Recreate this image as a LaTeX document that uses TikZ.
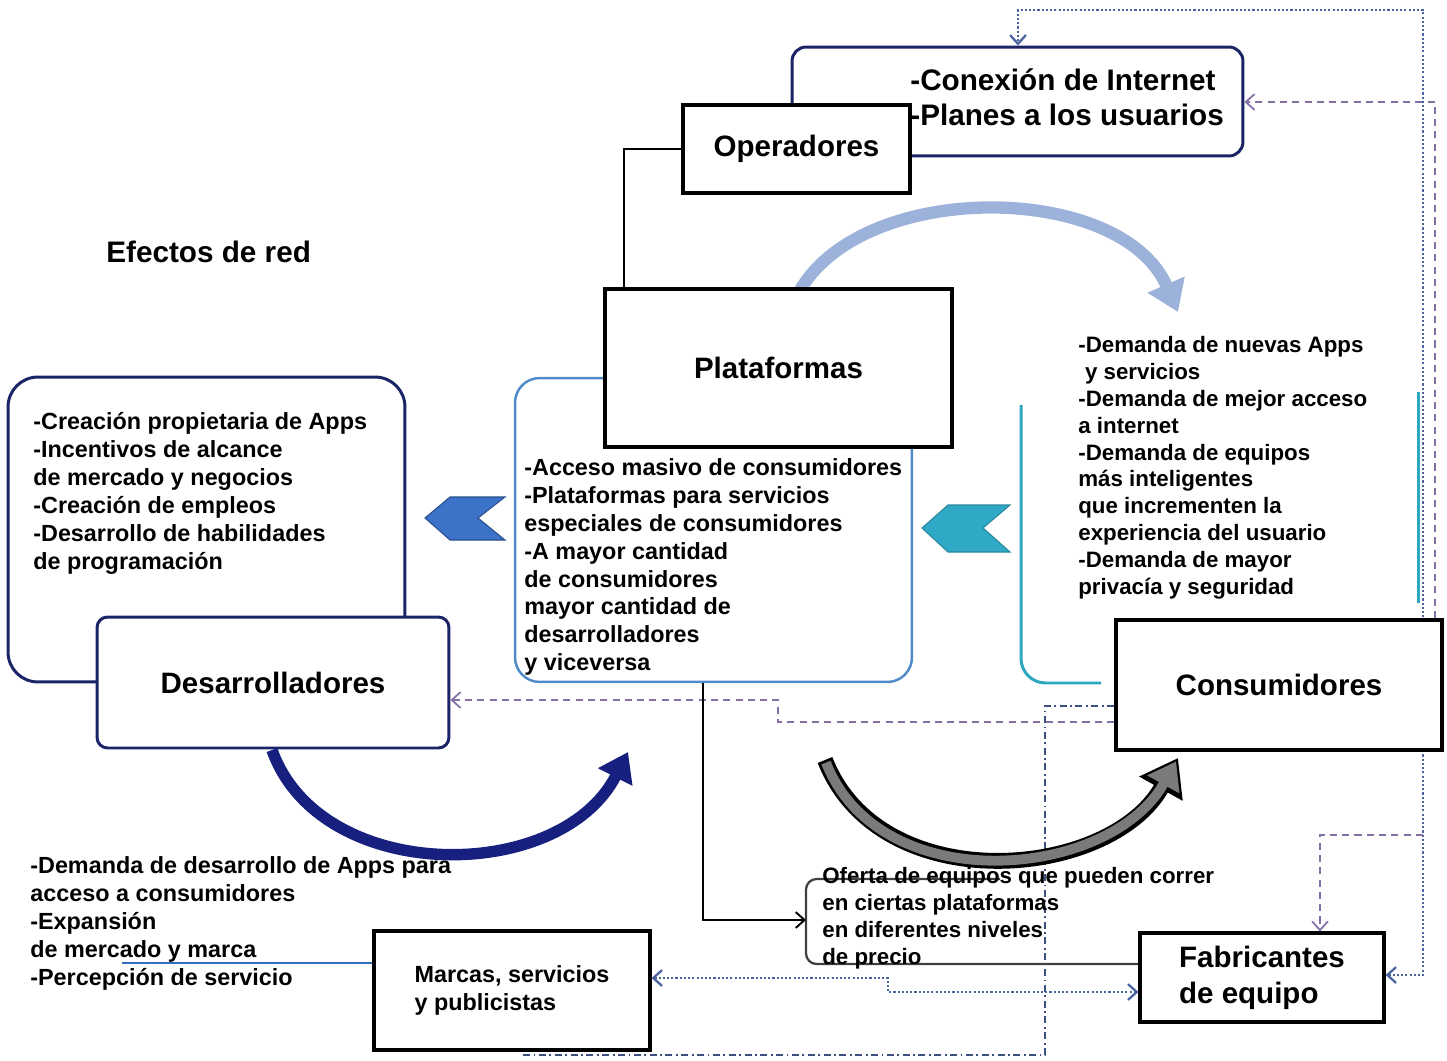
\documentclass[tikz,border=0pt]{standalone}
\usepackage{fontspec}
\setmainfont{Liberation Sans}
\usepackage{tikz}
\usetikzlibrary{arrows.meta, calc, backgrounds}
\definecolor{navyline}{HTML}{1B2466}
\definecolor{platblue}{HTML}{4F8BC9}
\definecolor{tealline}{HTML}{2EA7C1}
\definecolor{chevblue}{HTML}{3C72C8}
\definecolor{chevteal}{HTML}{2FA9C6}
\definecolor{arcnavy}{HTML}{17207E}
\definecolor{arclight}{HTML}{9CB2DA}
\definecolor{arcgray}{HTML}{7A7A7A}
\definecolor{dashpurple}{HTML}{8470A6}
\definecolor{dotblue}{HTML}{4A64A0}
\definecolor{linkblue}{HTML}{2F70B8}
\tikzset{
    titlebox/.style={rectangle, draw=black, fill=white, line width=2.2pt, inner sep=0pt, font=\fontsize{16.8}{20.4}\selectfont\bfseries},
    devbox/.style={titlebox, draw=navyline, line width=1.7pt, rounded corners=6pt},
    infobox/.style={rectangle, line width=1.7pt, rounded corners=14pt, inner sep=0pt},
    listtext/.style={anchor=north west, inner sep=0pt, align=left, font=\fontsize{13.3}{15.9}\selectfont\bfseries},
    smalllist/.style={listtext, font=\fontsize{12.7}{15.3}\selectfont\bfseries},
    dashlink/.style={dashpurple, line width=1pt, dash pattern=on 4pt off 3pt},
    dotlink/.style={dotblue, line width=1.3pt, dash pattern=on 1.2pt off 1.2pt},
    dashdotlink/.style={dotblue!80!black, line width=1pt, dash pattern=on 4pt off 2pt on 1pt off 2pt},
    chevron/.style={line width=0.6pt}
}

\begin{document}
\begin{tikzpicture}[x=0.02cm, y=-0.02cm, >={Straight Barb[length=5pt,width=9pt]}]
    \useasboundingbox (0,0) rectangle (1447,1061);

    % actores
    \node (oper) [titlebox, minimum width=4.54cm, minimum height=1.76cm] at (796.5,149) {Operadores};
    \node (plat) [titlebox, line width=2.6pt, minimum width=6.94cm, minimum height=3.16cm] at (778.5,368) {Plataformas};
    \node (cons) [titlebox, minimum width=6.52cm, minimum height=2.6cm] at (1279,685) {Consumidores};
    \node (dev) [devbox, minimum width=7.04cm, minimum height=2.62cm] at (273,682.5) {Desarrolladores};
    \node (fab) [titlebox, line width=1.8pt, minimum width=4.88cm, minimum height=1.78cm, align=left] at (1262,977.5) {Fabricantes\\de equipo};
    \node (mar) [titlebox, line width=1.8pt, minimum width=5.52cm, minimum height=2.38cm, align=left, font=\fontsize{13.3}{15.9}\selectfont\bfseries] at (512,990.5) {Marcas, servicios\\y publicistas};

    % textos
    \node (efectos) [anchor=base west, inner sep=0pt, font=\fontsize{16.9}{20}\selectfont\bfseries] at (106,262) {Efectos de red};
    \node (opnote) [listtext, font=\fontsize{16.9}{20.4}\selectfont\bfseries] at (910,68) {-Conexión de Internet\\-Planes a los usuarios};
    \node (devnote) [listtext] at (33,412) {-Creación propietaria de Apps\\-Incentivos de alcance\\de mercado y negocios\\-Creación de empleos\\-Desarrollo de habilidades\\de programación};
    \node (platnote) [listtext] at (524,458) {-Acceso masivo de consumidores\\-Plataformas para servicios\\especiales de consumidores\\-A mayor cantidad\\de consumidores\\mayor cantidad de\\desarrolladores\\y viceversa};
    \node (consnote) [smalllist] at (1078,336) {-Demanda de nuevas Apps\\\hspace*{0.3em}y servicios\\-Demanda de mejor acceso\\a internet\\-Demanda de equipos\\más inteligentes\\que incrementen la\\experiencia del usuario\\-Demanda de mayor\\privacía y seguridad};
    \node (brandnote) [listtext] at (30,856) {-Demanda de desarrollo de Apps para\\acceso a consumidores\\-Expansión\\de mercado y marca\\-Percepción de servicio};
    \node (ofnote) [smalllist] at (822,867) {Oferta de equipos que pueden correr\\en ciertas plataformas\\en diferentes niveles\\de precio};

    \coordinate (oflink) at (806,920);
    \coordinate (brandtail) at (122,963);
    \coordinate (branch) at (1423,835);
    \coordinate (ddend) at (520,1055);

    \begin{scope}[on background layer]
        \node (devinfo) [infobox, draw=navyline, rounded corners=17pt, minimum width=7.94cm, minimum height=6.1cm] at (206.5,529.5) {};
        \node (platinfo) [infobox, draw=platblue, line width=1.4pt, minimum width=7.94cm, minimum height=6.08cm] at (713.5,530) {};
        \node (opinfo) [infobox, draw=navyline, rounded corners=8pt, minimum width=9.02cm, minimum height=2.18cm] at (1017.5,101.5) {};
        \draw[tealline, line width=1.7pt, rounded corners=14pt] ($(cons.west)+(-13,-2)$) -- (1021,683) -- (1021,405);
        \draw[tealline, line width=1.7pt] (1418,392) -- (1418,603);
        \draw[black!75, line width=1.3pt, rounded corners=6pt] (1000,879) -- (806,879) -- (806,964) -- (fab.west |- 0,964);

        \draw[dashlink, ->] (cons.north -| 1435,0) -- (1435,102) -- (opinfo.east |- 0,102);
        \draw[dotlink, <->] (fab.east |- 0,975) -- (1423,975) -- (1423,10) -- (1018,10) -- (opinfo.north -| 1018,0);
        \draw[dashlink, ->] (branch) -- (1320,835) -- (fab.north -| 1320,0);
        \draw[dashlink, ->] (cons.west |- 0,722) -- (778,722) -- (778,700) -- (dev.east |- 0,700);
        \draw[dashdotlink] (cons.west |- 0,706) -- (1045,706) -- (1045,1055) -- (ddend);
        \draw[dotlink, <->] (mar.east |- 0,978) -- (888,978) -- (888,992) -- (fab.west |- 0,992);

        \draw[arclight, line width=7pt, -{Triangle[length=17pt,width=22pt]}] (795,300) .. controls (850,179) and (1120,179) .. (1178,312);
    \end{scope}

    \draw[line width=1pt] (oper.west) -| ($(plat.north west)+(21,0)$);
    \draw[line width=1.1pt, ->] (platinfo.south -| 703,0) |- (oflink);
    \draw[linkblue, line width=1.4pt] (brandtail) -- (mar.west |- brandtail);

    % flechas curvas
    \draw[arcnavy, line width=6.5pt, -{Triangle[length=16pt,width=21pt]}] (272,750) .. controls (320,885) and (560,885) .. (628,752);
    \draw[black, line width=9pt, -{Triangle[length=20pt,width=27pt]}] (825,760) .. controls (880,900) and (1110,880) .. (1178,758);
    \draw[arcgray, line width=5.6pt, shorten <=1.6pt, shorten >=2.2pt, -{Triangle[length=15pt,width=20pt]}] (825,760) .. controls (880,900) and (1110,880) .. (1178,758);

    % chevrones
    \filldraw[chevron, fill=chevblue, draw=chevblue!70!black] (425,518) -- (450,497) -- (505,497) -- (478,518) -- (505,540) -- (450,540) -- cycle;
    \filldraw[chevron, fill=chevteal, draw=chevteal!80!black] (922,528) -- (948,505) -- (1010,505) -- (983,528) -- (1010,552) -- (948,552) -- cycle;
\end{tikzpicture}
\end{document}
